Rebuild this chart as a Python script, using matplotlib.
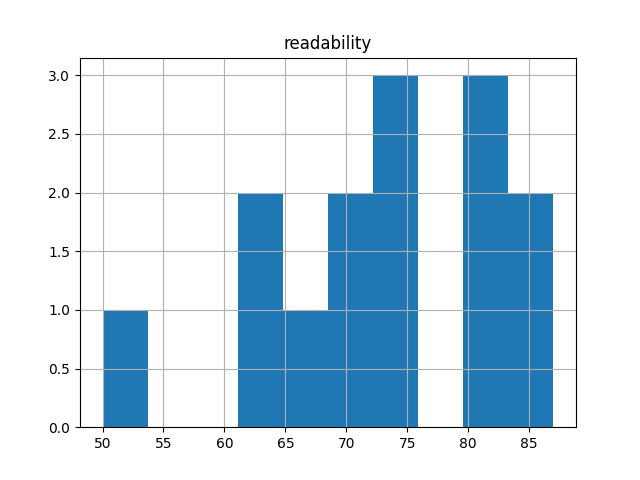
import matplotlib
matplotlib.use("Agg")
import matplotlib.pyplot as plt
import pandas as pd

# readability scores (10 bins from 50 to 87)
readability = [50, 62, 63, 66, 70, 71, 73, 74, 75, 80, 81, 82, 85, 87]

df = pd.DataFrame({"readability": readability})

fig = plt.figure(figsize=(6.4, 4.8), dpi=100)
ax = fig.add_subplot(111)
df.hist(column="readability", ax=ax)

fig.savefig("out.png")
